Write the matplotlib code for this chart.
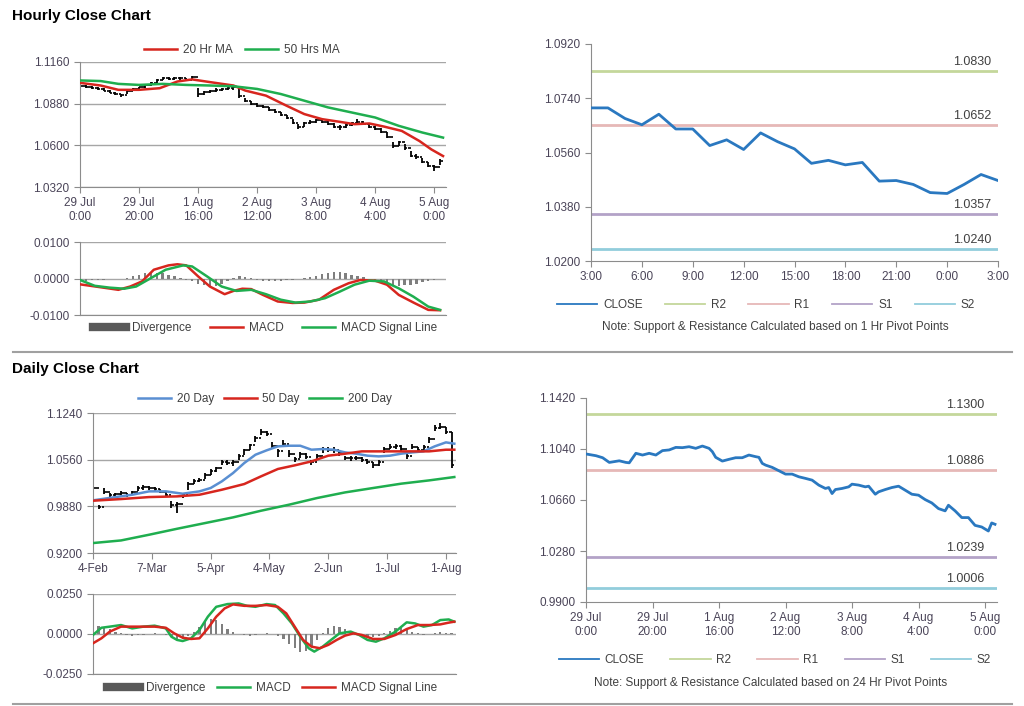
import numpy as np
import matplotlib.pyplot as plt
from matplotlib.lines import Line2D
from matplotlib.ticker import FormatStrFormatter

plt.rcParams['font.family'] = ['Liberation Sans', 'DejaVu Sans']

# ---------------- hourly data (29 Jul 0:00 -> 5 Aug), one bar per 2 hours ----------------
hour_ticks = [0, 20, 40, 60, 80, 100, 120]
hour_labels = ['29 Jul\n0:00', '29 Jul\n20:00', '1 Aug\n16:00', '2 Aug\n12:00',
               '3 Aug\n8:00', '4 Aug\n4:00', '5 Aug\n0:00']

hourly_low = [1.0990, 1.0985, 1.0980, 1.0970, 1.0962, 1.0950, 1.0938, 1.0922, 1.0945, 1.0962,
              1.0972, 1.0988, 1.1000, 1.1022, 1.1038, 1.1040, 1.1036, 1.1040, 1.1035, 1.1040,
              1.0925, 1.0940, 1.0952, 1.0960, 1.0966, 1.0970, 1.0972, 1.0920, 1.0890, 1.0872,
              1.0858, 1.0848, 1.0832, 1.0815, 1.0795, 1.0775, 1.0742, 1.0712, 1.0725, 1.0742,
              1.0752, 1.0748, 1.0738, 1.0718, 1.0705, 1.0716, 1.0732, 1.0752, 1.0735, 1.0716,
              1.0700, 1.0684, 1.0650, 1.0582, 1.0598, 1.0572, 1.0522, 1.0508, 1.0482, 1.0452,
              1.0428, 1.0470]
hourly_high = [1.1010, 1.1003, 1.0998, 1.0992, 1.0985, 1.0972, 1.0960, 1.0948, 1.0975, 1.0985,
               1.0995, 1.1010, 1.1025, 1.1048, 1.1058, 1.1060, 1.1056, 1.1060, 1.1055, 1.1068,
               1.0985, 1.0965, 1.0975, 1.0982, 1.0988, 1.0992, 1.0995, 1.0985, 1.0918, 1.0898,
               1.0882, 1.0872, 1.0858, 1.0842, 1.0822, 1.0802, 1.0775, 1.0745, 1.0755, 1.0768,
               1.0778, 1.0772, 1.0765, 1.0750, 1.0735, 1.0742, 1.0758, 1.0778, 1.0762, 1.0745,
               1.0728, 1.0714, 1.0688, 1.0625, 1.0632, 1.0608, 1.0560, 1.0542, 1.0518, 1.0490,
               1.0465, 1.0505]
hourly_close = [1.1000, 1.0993, 1.0985, 1.0976, 1.0968, 1.0955, 1.0942, 1.0940, 1.0968, 1.0978,
                1.0990, 1.1005, 1.1020, 1.1042, 1.1050, 1.1045, 1.1050, 1.1052, 1.1040, 1.1058,
                1.0945, 1.0958, 1.0968, 1.0975, 1.0980, 1.0985, 1.0990, 1.0930, 1.0898, 1.0880,
                1.0866, 1.0858, 1.0840, 1.0822, 1.0802, 1.0782, 1.0750, 1.0725, 1.0748, 1.0760,
                1.0770, 1.0755, 1.0745, 1.0725, 1.0722, 1.0738, 1.0752, 1.0760, 1.0742, 1.0722,
                1.0708, 1.0690, 1.0658, 1.0595, 1.0620, 1.0580, 1.0530, 1.0520, 1.0490, 1.0460,
                1.0455, 1.0495]

ma20_h_x = [0, 7, 13, 20, 27, 33, 38, 44, 52, 56, 63, 70, 76, 82, 88, 93, 98, 103, 109, 115, 119, 123]
ma20_h = [1.1020, 1.1002, 1.0973, 1.0973, 1.0984, 1.1029, 1.1043, 1.1025, 1.1002, 1.0968, 1.0934,
          1.0866, 1.0810, 1.0776, 1.0758, 1.0742, 1.0747, 1.0726, 1.0697, 1.0629, 1.0573, 1.0528]
ma50_h_x = [0, 7, 13, 20, 28, 36, 44, 52, 60, 68, 76, 84, 92, 100, 108, 116, 123]
ma50_h = [1.1036, 1.1032, 1.1013, 1.1006, 1.1013, 1.1006, 1.1002, 1.0997, 1.0979, 1.0945,
          1.0900, 1.0855, 1.0821, 1.0787, 1.0731, 1.0686, 1.0652]

macd_h_x = [0, 7, 13, 17, 21, 25, 30, 33, 36, 40, 44, 49, 52, 55, 58, 62, 67, 72, 76, 81, 86,
            91, 95, 100, 104, 108, 113, 118, 122]
macd_h = [-0.0016, -0.0024, -0.0031, -0.0022, -0.0008, 0.0024, 0.0036, 0.0039, 0.0036, 0.0006,
          -0.0022, -0.0043, -0.0034, -0.0028, -0.0029, -0.0045, -0.0063, -0.0067, -0.0066, -0.0058,
          -0.0031, -0.0013, -0.0004, -0.0006, -0.0017, -0.0045, -0.0066, -0.0086, -0.0087]
signal_h_x = [0, 5, 10, 15, 19, 24, 29, 35, 38, 43, 48, 53, 58, 63, 68, 73, 78, 83, 88, 93, 98,
              103, 108, 113, 118, 122]
signal_h = [-0.0004, -0.0020, -0.0025, -0.0028, -0.0022, 0.0001, 0.0024, 0.0036, 0.0033, 0.0006,
            -0.0022, -0.0034, -0.0031, -0.0043, -0.0058, -0.0066, -0.0063, -0.0054, -0.0036,
            -0.0017, -0.0006, -0.0008, -0.0027, -0.0050, -0.0077, -0.0086]
diverg_h = [-0.0005, -0.0006, -0.0005, -0.0004, -0.0003, -0.0002, -0.0002, -0.0001, 0.0002, 0.0006,
            0.0010, 0.0014, 0.0017, 0.0016, 0.0014, 0.0010, 0.0006, 0.0002, -0.0003, -0.0008,
            -0.0014, -0.0019, -0.0022, -0.0021, -0.0016, -0.0008, 0.0002, 0.0008, 0.0004, 0.0001,
            -0.0003, -0.0006, -0.0008, -0.0007, -0.0006, -0.0004, -0.0003, -0.0001, 0.0001, 0.0004,
            0.0007, 0.0011, 0.0015, 0.0018, 0.0017, 0.0014, 0.0010, 0.0006, 0.0003, 0.0000,
            -0.0004, -0.0009, -0.0014, -0.0018, -0.0020, -0.0019, -0.0017, -0.0014, -0.0010, -0.0008,
            -0.0004, -0.0002]

# 1 hr pivot panel
pivot_h_labels = ['3:00', '6:00', '9:00', '12:00', '15:00', '18:00', '21:00', '0:00', '3:00']
close_1h = [1.0708, 1.0708, 1.0673, 1.0652, 1.0687, 1.0638, 1.0638, 1.0583, 1.0602, 1.0570,
            1.0625, 1.0596, 1.0572, 1.0524, 1.0534, 1.0519, 1.0527, 1.0465, 1.0467, 1.0454,
            1.0427, 1.0424, 1.0454, 1.0487, 1.0467]
levels_1h = {'R2': 1.0830, 'R1': 1.0652, 'S1': 1.0357, 'S2': 1.0240}

# ---------------- daily data (4 Feb -> 1 Aug), one bar per 2 days ----------------
day_ticks = [0, 21, 42, 63, 84, 105, 126]
day_labels = ['4-Feb', '7-Mar', '5-Apr', '4-May', '2-Jun', '1-Jul', '1-Aug']

daily_low = [1.0120, 0.9845, 1.0060, 1.0010, 1.0010, 1.0040, 1.0020, 1.0040, 1.0110, 1.0125,
             1.0120, 1.0100, 1.0070, 1.0020, 0.9860, 0.9790, 1.0000, 1.0120, 1.0200, 1.0230,
             1.0280, 1.0330, 1.0380, 1.0480, 1.0480, 1.0470, 1.0560, 1.0630, 1.0700, 1.0820,
             1.0920, 1.0900, 1.0720, 1.0600, 1.0760, 1.0600, 1.0520, 1.0590, 1.0570, 1.0480,
             1.0570, 1.0660, 1.0670, 1.0660, 1.0620, 1.0550, 1.0540, 1.0550, 1.0520, 1.0500,
             1.0440, 1.0470, 1.0660, 1.0710, 1.0710, 1.0690, 1.0570, 1.0710, 1.0670, 1.0690,
             1.0810, 1.0980, 1.1000, 1.0940, 1.0440]
daily_high = [1.0200, 0.9900, 1.0140, 1.0070, 1.0075, 1.0100, 1.0080, 1.0110, 1.0175, 1.0185,
              1.0180, 1.0160, 1.0130, 1.0100, 0.9960, 0.9950, 1.0080, 1.0230, 1.0280, 1.0300,
              1.0360, 1.0420, 1.0460, 1.0560, 1.0560, 1.0550, 1.0640, 1.0720, 1.0790, 1.0910,
              1.1000, 1.0980, 1.0820, 1.0720, 1.0850, 1.0700, 1.0600, 1.0670, 1.0650, 1.0560,
              1.0640, 1.0740, 1.0740, 1.0740, 1.0700, 1.0620, 1.0610, 1.0620, 1.0600, 1.0570,
              1.0530, 1.0560, 1.0750, 1.0790, 1.0790, 1.0770, 1.0650, 1.0790, 1.0740, 1.0770,
              1.0890, 1.1060, 1.1090, 1.1040, 1.0960]
daily_close = [1.0150, 0.9870, 1.0090, 1.0040, 1.0060, 1.0070, 1.0050, 1.0090, 1.0150, 1.0160,
               1.0150, 1.0130, 1.0090, 1.0040, 0.9900, 0.9920, 1.0060, 1.0200, 1.0250, 1.0270,
               1.0330, 1.0390, 1.0440, 1.0530, 1.0510, 1.0530, 1.0610, 1.0700, 1.0770, 1.0880,
               1.0970, 1.0930, 1.0760, 1.0690, 1.0790, 1.0640, 1.0570, 1.0640, 1.0600, 1.0530,
               1.0610, 1.0710, 1.0700, 1.0700, 1.0650, 1.0580, 1.0580, 1.0590, 1.0550, 1.0530,
               1.0480, 1.0530, 1.0720, 1.0750, 1.0760, 1.0720, 1.0620, 1.0750, 1.0700, 1.0740,
               1.0860, 1.1020, 1.1040, 1.0970, 1.0480]

ma20_d_x = [0, 8, 14, 20, 26, 32, 38, 42, 46, 50, 54, 58, 62, 66, 70, 74, 78, 82, 86, 90, 94,
            98, 102, 106, 110, 114, 118, 122, 126, 129]
ma20_d = [0.9967, 1.0015, 1.0049, 1.0098, 1.0098, 1.0064, 1.0098, 1.0147, 1.0244, 1.0365,
          1.0511, 1.0632, 1.0696, 1.0754, 1.0763, 1.0763, 1.0705, 1.0715, 1.0705, 1.0666,
          1.0647, 1.0618, 1.0608, 1.0618, 1.0647, 1.0666, 1.0681, 1.0754, 1.0812, 1.0793]
ma50_d_x = [0, 10, 20, 30, 38, 46, 54, 60, 66, 72, 78, 84, 90, 96, 102, 108, 114, 120, 126, 129]
ma50_d = [0.9962, 0.9986, 1.0015, 1.0025, 1.0049, 1.0122, 1.0205, 1.0317, 1.0424, 1.0477,
          1.0535, 1.0618, 1.0647, 1.0681, 1.0681, 1.0681, 1.0681, 1.0681, 1.0705, 1.0705]
ma200_d_x = [0, 10, 20, 30, 40, 50, 60, 70, 80, 90, 100, 110, 120, 129]
ma200_d = [0.9345, 0.9383, 0.9466, 0.9553, 0.9636, 0.9719, 0.9816, 0.9904, 1.0001, 1.0083,
           1.0147, 1.0210, 1.0258, 1.0307]

macd_d_x = [0, 3, 6, 10, 14, 18, 22, 26, 28, 30, 32, 35, 38, 41, 44, 48, 52, 55, 58, 62, 65,
            68, 71, 74, 77, 79, 82, 85, 88, 92, 95, 98, 101, 104, 108, 112, 115, 118, 121, 124,
            127, 129]
macd_d = [-0.0006, 0.0039, 0.0046, 0.0056, 0.0035, 0.0046, 0.0052, 0.0035, -0.0017, -0.0037,
          -0.0044, -0.0027, 0.0025, 0.0108, 0.0170, 0.0187, 0.0191, 0.0176, 0.0170, 0.0187,
          0.0181, 0.0129, 0.0066, -0.0017, -0.0089, -0.0110, -0.0079, -0.0037, 0.0004, 0.0015,
          -0.0006, -0.0037, -0.0048, -0.0027, 0.0015, 0.0073, 0.0066, 0.0046, 0.0056, 0.0087,
          0.0091, 0.0077]
signal_d_x = [0, 3, 6, 10, 14, 18, 22, 26, 29, 32, 35, 38, 41, 44, 47, 50, 54, 58, 62, 66, 69,
              72, 75, 78, 81, 84, 87, 90, 93, 96, 100, 104, 108, 112, 116, 120, 124, 127, 129]
signal_d = [-0.0058, -0.0027, 0.0015, 0.0046, 0.0046, 0.0046, 0.0046, 0.0039, 0.0004, -0.0023,
            -0.0031, -0.0027, 0.0035, 0.0108, 0.0160, 0.0185, 0.0176, 0.0176, 0.0181, 0.0170,
            0.0129, 0.0046, -0.0037, -0.0079, -0.0089, -0.0068, -0.0037, -0.0010, 0.0004, -0.0006,
            -0.0031, -0.0031, -0.0006, 0.0031, 0.0056, 0.0056, 0.0060, 0.0071, 0.0077]
diverg_d = [0.0045, 0.0050, 0.0040, 0.0030, 0.0015, 0.0008, -0.0005, -0.0010, -0.0008, -0.0005,
            -0.0003, 0.0005, 0.0003, -0.0005, -0.0020, -0.0035, -0.0030, -0.0015, 0.0010, 0.0045,
            0.0075, 0.0095, 0.0085, 0.0060, 0.0030, 0.0010, -0.0002, -0.0008, -0.0010, -0.0005,
            0.0002, 0.0005, 0.0003, -0.0010, -0.0030, -0.0060, -0.0090, -0.0110, -0.0105, -0.0080,
            -0.0040, 0.0005, 0.0035, 0.0050, 0.0045, 0.0030, 0.0010, -0.0005, -0.0015, -0.0020,
            -0.0018, -0.0010, 0.0005, 0.0020, 0.0035, 0.0040, 0.0030, 0.0015, 0.0005, -0.0005,
            0.0003, 0.0008, 0.0010, 0.0008, 0.0004]

# 24 hr pivot panel (hourly close over the same week)
close_24h_x = [0, 3, 5, 7, 10, 12, 13, 15, 17, 19, 21, 23, 25, 27, 29, 31, 33, 35, 37, 38, 39,
               41, 43, 45, 47, 49, 51, 52, 53, 54, 56, 58, 60, 62, 64, 66, 68, 70, 72, 73, 74,
               75, 77, 79, 80, 82, 84, 85, 87, 88, 90, 92, 94, 96, 98, 100, 102, 104, 106, 108,
               109, 111, 113, 115, 117, 119, 121, 122, 123]
close_24h = [1.1003, 1.0990, 1.0975, 1.0940, 1.0952, 1.0940, 1.0937, 1.1008, 1.0995, 1.1008,
             1.0995, 1.1028, 1.1033, 1.1052, 1.1050, 1.1057, 1.1045, 1.1062, 1.1045, 1.1020,
             1.0978, 1.0950, 1.0963, 1.0975, 1.0975, 1.0995, 1.0983, 1.0978, 1.0933, 1.0920,
             1.0903, 1.0878, 1.0853, 1.0853, 1.0833, 1.0821, 1.0808, 1.0771, 1.0746, 1.0753,
             1.0708, 1.0738, 1.0746, 1.0758, 1.0778, 1.0771, 1.0758, 1.0763, 1.0703, 1.0721,
             1.0738, 1.0753, 1.0763, 1.0733, 1.0703, 1.0696, 1.0663, 1.0638, 1.0596, 1.0579,
             1.0621, 1.0579, 1.0529, 1.0529, 1.0471, 1.0459, 1.0429, 1.0489, 1.0479]
levels_24h = {'R2': 1.1300, 'R1': 1.0886, 'S1': 1.0239, 'S2': 1.0006}

# ---------------- styling ----------------
W, H = 1024, 706
RED, GREEN, BLUE = '#d7261e', '#1fae4f', '#5a8fd2'
CLOSE_C = '#2a78c0'
LEVEL_C = {'R2': '#c4d79b', 'R1': '#e6b8b7', 'S1': '#b3a2c7', 'S2': '#92cddc'}
AX_C = '#8c8c8c'
TXT_C = '#4a4458'
FS = 8.5

fig = plt.figure(figsize=(W / 100, H / 100), dpi=100)


def px_axes(x0, y0, x1, y1):
    return fig.add_axes([x0 / W, 1 - y1 / H, (x1 - x0) / W, (y1 - y0) / H])


def style(ax, grid=True, xticks=True):
    for s in ['top', 'right']:
        ax.spines[s].set_visible(False)
    for s in ['left', 'bottom']:
        ax.spines[s].set_color(AX_C)
    ax.tick_params(colors=AX_C, labelcolor=TXT_C, labelsize=FS, length=4, width=0.8)
    if not xticks:
        ax.tick_params(axis='x', length=0, labelbottom=False)
    if grid:
        ax.yaxis.grid(True, color='#a6a6a6', lw=1)
        ax.set_axisbelow(True)
    ax.yaxis.set_major_formatter(FormatStrFormatter('%.4f'))


def ohlc(ax, x, low, high, close):
    # open of each bar taken as the previous bar's close
    opens = [close[0]] + list(close[:-1])
    ax.vlines(x, low, high, color='black', lw=1.3, zorder=2)
    ax.hlines(opens, x - 0.9, x, color='black', lw=1.2, zorder=2)
    ax.hlines(close, x, x + 0.9, color='black', lw=1.2, zorder=2)


def fig_legend(handles, labels, cx, cy, **kw):
    fig.legend(handles, labels, loc='center', bbox_to_anchor=(cx / W, 1 - cy / H),
               frameon=False, fontsize=FS, labelcolor='#404040', handletextpad=0.5, **kw)


def pivot_panel(ax, x, close, levels, xlim, yticks, xt, xl, lab_pad):
    ax.plot(x, close, color=CLOSE_C, lw=2, label='CLOSE', zorder=3)
    for name, v in levels.items():
        ax.axhline(v, color=LEVEL_C[name], lw=2, label=name, zorder=2)
        ax.annotate(f'{v:.4f}', xy=(1, v), xycoords=('axes fraction', 'data'),
                    xytext=(-lab_pad, 2), textcoords='offset points',
                    ha='right', va='bottom', fontsize=FS + 0.5, color='#404040')
    ax.set_xlim(*xlim)
    ax.set_ylim(yticks[0], yticks[-1])
    ax.set_yticks(yticks)
    ax.set_xticks(xt)
    ax.set_xticklabels(xl)
    style(ax, grid=False)


def pivot_legend(ax, cx, cy, spacing):
    h, lab = ax.get_legend_handles_labels()
    h = [Line2D([], [], color=l.get_color(), lw=1.3) for l in h]
    fig_legend(h, lab, cx, cy, ncol=5, handlelength=3.4, columnspacing=spacing)


# titles and separators
fig.text(12 / W, 1 - 16 / H, 'Hourly Close Chart', fontsize=11, fontweight='bold', va='center')
fig.text(12 / W, 1 - 369 / H, 'Daily Close Chart', fontsize=11, fontweight='bold', va='center')
for yy in [352, 704]:
    fig.add_artist(Line2D([13 / W, 1012 / W], [1 - yy / H] * 2, color='#a0a0a0', lw=1.5))

# ---- hourly price ----
ax = px_axes(80, 62, 446, 187)
hx = np.arange(0, 2 * len(hourly_low), 2)
ohlc(ax, hx, hourly_low, hourly_high, hourly_close)
l1, = ax.plot(ma20_h_x, ma20_h, color=RED, lw=1.8, zorder=3)
l2, = ax.plot(ma50_h_x, ma50_h, color=GREEN, lw=1.8, zorder=3)
ax.set_xlim(0, 124)
ax.set_ylim(1.032, 1.116)
ax.set_yticks([1.032, 1.060, 1.088, 1.116])
ax.set_xticks(hour_ticks)
ax.set_xticklabels(hour_labels)
style(ax)
fig_legend([l1, l2], ['20 Hr MA', '50 Hrs MA'], 242, 50, ncol=2, handlelength=2.8,
           columnspacing=1.0)

# ---- hourly MACD ----
ax = px_axes(80, 242, 446, 315)
ax.bar(hx, diverg_h, width=0.8, color='#7f7f7f', zorder=2)
m1, = ax.plot(macd_h_x, macd_h, color=RED, lw=1.8, zorder=3)
m2, = ax.plot(signal_h_x, signal_h, color=GREEN, lw=1.8, zorder=3)
ax.set_xlim(0, 124)
ax.set_ylim(-0.01, 0.01)
ax.set_yticks([-0.01, 0.0, 0.01])
style(ax, xticks=False)
div_handle = Line2D([], [], color='#595959', lw=6)
fig_legend([div_handle, m1, m2], ['Divergence', 'MACD', 'MACD Signal Line'], 265, 328,
           ncol=3, handlelength=2.8, columnspacing=1.6)

# ---- 1 hr pivot ----
ax = px_axes(591, 44, 998, 261)
pivot_panel(ax, np.arange(len(close_1h)), close_1h, levels_1h, (0, 24),
            [1.020, 1.038, 1.056, 1.074, 1.092], list(range(0, 25, 3)), pivot_h_labels, 5)
pivot_legend(ax, 766, 305, 1.9)
fig.text(775 / W, 1 - 327 / H, 'Note: Support & Resistance Calculated based on 1 Hr Pivot Points',
         ha='center', va='center', fontsize=FS, color='#404040')

# ---- daily price ----
ax = px_axes(93, 413, 456, 553)
dx = np.arange(0, 2 * len(daily_low), 2)
ohlc(ax, dx, daily_low, daily_high, daily_close)
d1, = ax.plot(ma20_d_x, ma20_d, color=BLUE, lw=1.8, zorder=3)
d2, = ax.plot(ma50_d_x, ma50_d, color=RED, lw=1.8, zorder=3)
d3, = ax.plot(ma200_d_x, ma200_d, color=GREEN, lw=1.8, zorder=3)
ax.set_xlim(0, 129.6)
ax.set_ylim(0.920, 1.124)
ax.set_yticks([0.920, 0.988, 1.056, 1.124])
ax.set_xticks(day_ticks)
ax.set_xticklabels(day_labels)
style(ax)
fig_legend([d1, d2, d3], ['20 Day', '50 Day', '200 Day'], 265, 399, ncol=3, handlelength=2.8,
           columnspacing=0.8)

# ---- daily MACD ----
ax = px_axes(93, 594, 456, 674)
ax.bar(dx, diverg_d, width=0.8, color='#7f7f7f', zorder=2)
n1, = ax.plot(macd_d_x, macd_d, color=GREEN, lw=1.8, zorder=3)
n2, = ax.plot(signal_d_x, signal_d, color=RED, lw=1.8, zorder=3)
ax.set_xlim(0, 129.6)
ax.set_ylim(-0.025, 0.025)
ax.set_yticks([-0.025, 0.0, 0.025])
style(ax, xticks=False)
fig_legend([div_handle, n1, n2], ['Divergence', 'MACD', 'MACD Signal Line'], 272, 688,
           ncol=3, handlelength=2.8, columnspacing=1.0)

# ---- 24 hr pivot ----
ax = px_axes(586, 398, 997, 602)
pivot_panel(ax, close_24h_x, close_24h, levels_24h, (0, 123.6),
            [0.990, 1.028, 1.066, 1.104, 1.142], hour_ticks, hour_labels, 9)
pivot_legend(ax, 775, 660, 2.2)
fig.text(771 / W, 1 - 683 / H, 'Note: Support & Resistance Calculated based on 24 Hr Pivot Points',
         ha='center', va='center', fontsize=FS, color='#404040')

fig.savefig('out.png', dpi=100, facecolor='white')
